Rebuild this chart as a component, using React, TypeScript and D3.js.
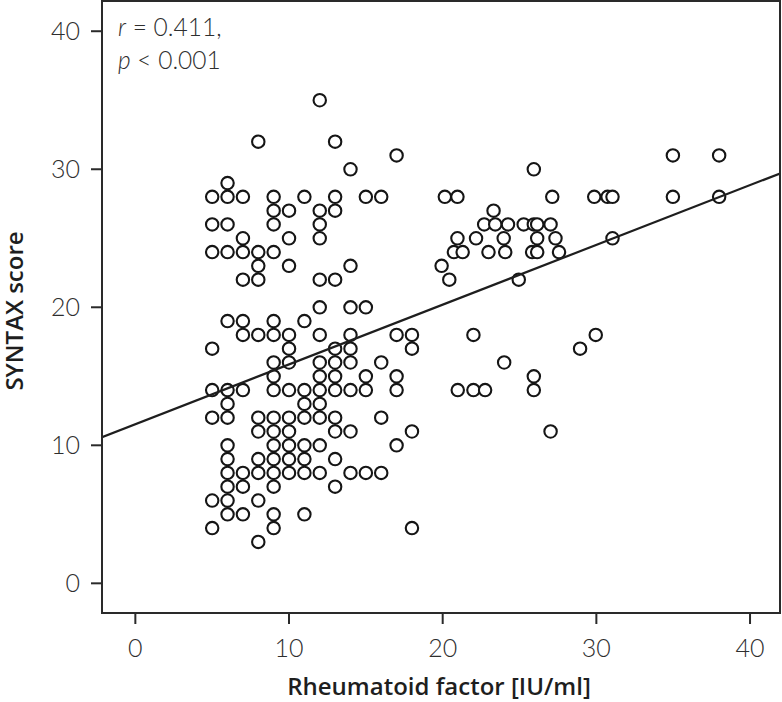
import React from "react";
import * as d3 from "d3";

// Rheumatoid factor [IU/ml] (x) and SYNTAX score (y), paired by index
const rfValues: number[] = [
  // RF = 5
  5, 5, 5, 5, 5, 5, 5, 5,
  // RF = 6
  6, 6, 6, 6, 6, 6, 6, 6, 6, 6, 6, 6, 6, 6,
  // RF = 7
  7, 7, 7, 7, 7, 7, 7, 7, 7, 7,
  // RF = 8
  8, 8, 8, 8, 8, 8, 8, 8, 8, 8, 8,
  // RF = 9
  9, 9, 9, 9, 9, 9, 9, 9, 9, 9, 9, 9, 9, 9, 9, 9, 9,
  // RF = 10
  10, 10, 10, 10, 10, 10, 10, 10, 10, 10, 10, 10,
  // RF = 11
  11, 11, 11, 11, 11, 11, 11, 11, 11,
  // RF = 12
  12, 12, 12, 12, 12, 12, 12, 12, 12, 12, 12, 12, 12, 12,
  // RF = 13
  13, 13, 13, 13, 13, 13, 13, 13, 13, 13, 13, 13,
  // RF = 14
  14, 14, 14, 14, 14, 14, 14, 14, 14,
  // RF = 15
  15, 15, 15, 15, 15,
  // RF = 16
  16, 16, 16, 16,
  // RF = 17
  17, 17, 17, 17, 17,
  // RF = 18
  18, 18, 18, 18,
  // RF > 19
  19.93, 20.14, 20.43, 20.73, 20.96, 20.96, 21.3, 20.98, 22.0, 22.0,
  22.17, 22.7, 22.76, 22.98, 23.31, 23.42, 23.97, 24.07, 24.0, 24.25,
  24.95, 25.27, 25.82, 25.93, 25.93, 26.15, 26.15, 26.15, 25.93, 25.93,
  27.02, 27.02, 27.13, 27.34, 27.57, 28.94, 29.96, 29.86, 30.73, 31.05,
  31.05, 34.98, 34.98, 37.99, 37.99,
];

const syntaxValues: number[] = [
  28, 26, 24, 17, 14, 12, 6, 4,
  29, 28, 26, 24, 19, 14, 13, 12, 10, 9, 8, 7, 6, 5,
  28, 25, 24, 22, 19, 18, 14, 8, 7, 5,
  32, 24, 23, 22, 18, 12, 11, 9, 8, 6, 3,
  28, 27, 26, 24, 19, 18, 16, 15, 14, 12, 11, 10, 9, 8, 7, 5, 4,
  27, 25, 23, 18, 17, 16, 14, 12, 11, 10, 9, 8,
  28, 19, 14, 13, 12, 10, 9, 8, 5,
  35, 27, 26, 25, 22, 20, 18, 16, 15, 14, 13, 12, 10, 8,
  32, 28, 27, 22, 17, 16, 15, 14, 12, 11, 9, 7,
  30, 23, 20, 18, 17, 16, 14, 11, 8,
  28, 20, 15, 14, 8,
  28, 16, 12, 8,
  31, 18, 15, 14, 10,
  18, 17, 11, 4,
  23, 28, 22, 24, 28, 25, 24, 14, 18, 14,
  25, 26, 14, 24, 27, 26, 25, 24, 16, 26,
  22, 26, 24, 26, 30, 26, 25, 24, 15, 14,
  26, 11, 28, 25, 24, 17, 18, 28, 28, 28,
  25, 31, 28, 31, 28,
];

const xTicks: number[] = [0, 10, 20, 30, 40];
const yTicks: number[] = [0, 10, 20, 30, 40];

// Fit line
const fitIntercept = 11.53;
const fitSlope = 0.433;

const xDomain: [number, number] = [-2.17, 41.95];
const yDomain: [number, number] = [-2.15, 42.19];

const annotationLines = [
  { italic: "r", rest: " = 0.411," },
  { italic: "p", rest: " < 0.001" },
];

const xTitle = "Rheumatoid factor [IU/ml]";
const yTitle = "SYNTAX score";

export default function App() {
  const width = 782;
  const height = 702;
  const left = 102;
  const right = 780;
  const top = 1;
  const bottom = 613;

  const x = d3.scaleLinear().domain(xDomain).range([left, right]);
  const y = d3.scaleLinear().domain(yDomain).range([bottom, top]);

  const points = rfValues.map((v, i) => ({ rf: v, sx: syntaxValues[i] }));

  const lineGen = d3
    .line<number>()
    .x((d) => x(d))
    .y((d) => y(fitIntercept + fitSlope * d));
  const fitPath = lineGen([xDomain[0], xDomain[1]]) || "";

  const tickFont = "Lato, 'Open Sans', sans-serif";
  const tickColor = "#2e2e2e";
  const titleFont = "'Open Sans', sans-serif";

  return (
    <svg
      width={width}
      height={height}
      style={{ position: "absolute", left: 0, top: 0, background: "#fff" }}
    >
      <rect x={0} y={0} width={width} height={height} fill="#fff" />
      <defs>
        <clipPath id="plotClip">
          <rect x={left} y={top} width={right - left} height={bottom - top} />
        </clipPath>
      </defs>

      {/* points */}
      <g>
        {points.map((p, i) => (
          <circle
            key={i}
            cx={x(p.rf)}
            cy={y(p.sx)}
            r={6.2}
            fill="#fff"
            stroke="#151515"
            strokeWidth={2.1}
          />
        ))}
      </g>

      {/* regression line */}
      <path
        d={fitPath}
        fill="none"
        stroke="#1e1e1e"
        strokeWidth={2.2}
        clipPath="url(#plotClip)"
      />

      {/* frame */}
      <rect
        x={left}
        y={top}
        width={right - left}
        height={bottom - top}
        fill="none"
        stroke="#2a2a2a"
        strokeWidth={2}
      />

      {/* x ticks */}
      {xTicks.map((t) => (
        <g key={"x" + t}>
          <line
            x1={x(t)}
            x2={x(t)}
            y1={bottom}
            y2={bottom + 11}
            stroke="#2a2a2a"
            strokeWidth={2}
          />
          <text
            x={x(t)}
            y={657}
            textAnchor="middle"
            fontFamily={tickFont}
            fontWeight={300}
            fontSize={25}
            fill={tickColor}
          >
            {t}
          </text>
        </g>
      ))}

      {/* y ticks */}
      {yTicks.map((t) => (
        <g key={"y" + t}>
          <line
            x1={left - 11}
            x2={left}
            y1={y(t)}
            y2={y(t)}
            stroke="#2a2a2a"
            strokeWidth={2}
          />
          <text
            x={80}
            y={y(t) + 9}
            textAnchor="end"
            fontFamily={tickFont}
            fontWeight={300}
            fontSize={25}
            fill={tickColor}
          >
            {t}
          </text>
        </g>
      ))}

      {/* annotation */}
      {annotationLines.map((l, i) => (
        <text
          key={i}
          x={118}
          y={36 + i * 33}
          fontFamily={tickFont}
          fontWeight={300}
          fontSize={24.5}
          fill={tickColor}
        >
          <tspan fontStyle="italic">{l.italic}</tspan>
          <tspan>{l.rest}</tspan>
        </text>
      ))}

      {/* axis titles */}
      <text
        x={(left + right) / 2 - 2}
        y={695}
        textAnchor="middle"
        fontFamily={titleFont}
        fontWeight={600}
        fontSize={24}
        fill="#1e1e1e"
      >
        {xTitle}
      </text>
      <text
        transform={`translate(23, 311) rotate(-90)`}
        textAnchor="middle"
        fontFamily={titleFont}
        fontWeight={600}
        fontSize={24}
        fill="#1e1e1e"
      >
        {yTitle}
      </text>
    </svg>
  );
}
